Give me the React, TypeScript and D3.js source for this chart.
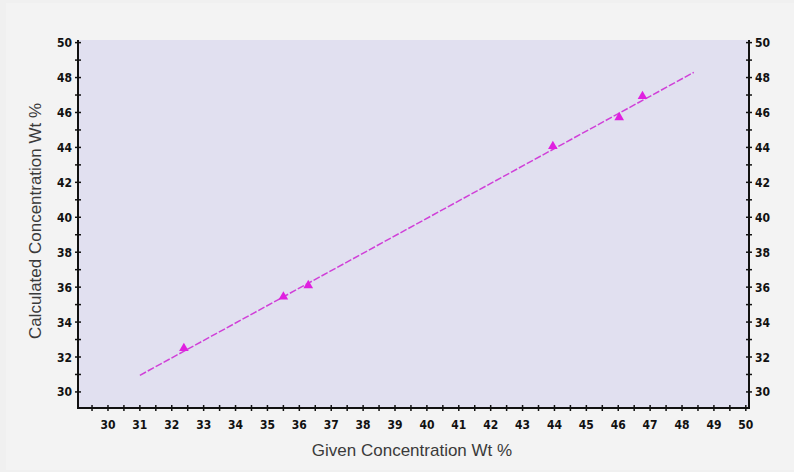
import React, { useEffect, useRef } from "react";
import * as d3 from "d3";

const givenConc = [32.38, 35.5, 36.28, 43.95, 46.03, 46.76];
const calcConc = [32.5, 35.45, 36.1, 44.07, 45.72, 46.93];

// fitted line end points
const fitX = [31.0, 48.37];
const fitY = [30.95, 48.3];

const xLabels = d3.range(30, 51, 1);
const xMinor = d3.range(29.5, 50.01, 0.5);
const yLabels = d3.range(30, 51, 2);
const yMinor = d3.range(30, 50.01, 1);

const W = 794,
  H = 472;

function App() {
  const ref = useRef<SVGSVGElement>(null);

  useEffect(() => {
    const svg = d3.select(ref.current);
    svg.selectAll("*").remove();

    const left = 78,
      right = 749,
      top = 40,
      bottom = 408;

    const x = d3.scaleLinear().domain([29.06, 50.1]).range([left, right]);
    const y = d3.scaleLinear().domain([29.08, 50.15]).range([bottom, top]);

    // page background
    svg.append("rect").attr("width", W).attr("height", H).attr("fill", "#f0f0f0");
    svg
      .append("rect")
      .attr("x", 6)
      .attr("y", 3)
      .attr("width", W - 6)
      .attr("height", H - 5)
      .attr("fill", "#f3f3f3");

    // plot area
    svg
      .append("rect")
      .attr("x", left)
      .attr("y", top)
      .attr("width", right - left)
      .attr("height", bottom - top)
      .attr("fill", "#e1e0f0");

    const tickFont = "'DejaVu Sans Condensed', 'Liberation Sans Narrow', Arial, sans-serif";

    // axes lines
    const axes = svg.append("g").attr("stroke", "#111").attr("stroke-width", 2);
    axes.append("line").attr("x1", left).attr("x2", left).attr("y1", top).attr("y2", bottom + 1);
    axes.append("line").attr("x1", right).attr("x2", right).attr("y1", top).attr("y2", bottom + 1);
    axes.append("line").attr("x1", left - 1).attr("x2", right + 1).attr("y1", bottom).attr("y2", bottom);

    // x ticks (cross style)
    svg
      .append("g")
      .selectAll("line")
      .data(xMinor)
      .join("line")
      .attr("x1", (d) => x(d))
      .attr("x2", (d) => x(d))
      .attr("y1", bottom - 3)
      .attr("y2", bottom + 3)
      .attr("stroke", "#111")
      .attr("stroke-width", 1.5);

    svg
      .append("g")
      .selectAll("text")
      .data(xLabels)
      .join("text")
      .attr("x", (d) => x(d))
      .attr("y", bottom + 21)
      .attr("text-anchor", "middle")
      .style("font-family", tickFont)
      .style("font-weight", "bold")
      .style("font-size", "12px")
      .attr("fill", "#111")
      .text((d) => d);

    // y ticks on both sides
    [left, right].forEach((ax) => {
      svg
        .append("g")
        .selectAll("line")
        .data(yMinor)
        .join("line")
        .attr("x1", ax - 3)
        .attr("x2", ax + 3)
        .attr("y1", (d) => y(d))
        .attr("y2", (d) => y(d))
        .attr("stroke", "#111")
        .attr("stroke-width", 1.5);
    });

    svg
      .append("g")
      .selectAll("text")
      .data(yLabels)
      .join("text")
      .attr("x", left - 6)
      .attr("y", (d) => y(d) + 4.5)
      .attr("text-anchor", "end")
      .style("font-family", tickFont)
      .style("font-weight", "bold")
      .style("font-size", "12px")
      .attr("fill", "#111")
      .text((d) => d);

    svg
      .append("g")
      .selectAll("text")
      .data(yLabels)
      .join("text")
      .attr("x", right + 6)
      .attr("y", (d) => y(d) + 4.5)
      .attr("text-anchor", "start")
      .style("font-family", tickFont)
      .style("font-weight", "bold")
      .style("font-size", "12px")
      .attr("fill", "#111")
      .text((d) => d);

    // fit line
    const line = d3
      .line<number>()
      .x((d, i) => x(fitX[i]))
      .y((d) => y(d));
    svg
      .append("path")
      .attr("d", line(fitY))
      .attr("fill", "none")
      .attr("stroke", "#d040d8")
      .attr("stroke-width", 1.5)
      .attr("stroke-dasharray", "7,2");

    // points
    const tri = d3.symbol().type(d3.symbolTriangle).size(40);
    svg
      .append("g")
      .selectAll("path")
      .data(givenConc)
      .join("path")
      .attr("d", tri)
      .attr("transform", (d, i) => `translate(${x(d)},${y(calcConc[i])})`)
      .attr("fill", "#e020e0");

    // axis titles
    svg
      .append("text")
      .attr("x", 412)
      .attr("y", 456)
      .attr("text-anchor", "middle")
      .style("font-family", "'Liberation Sans', Arial, sans-serif")
      .style("font-size", "17px")
      .attr("fill", "#3a3a3a")
      .text("Given Concentration Wt %");

    svg
      .append("text")
      .attr("transform", `translate(41,221) rotate(-90)`)
      .attr("text-anchor", "middle")
      .style("font-family", "'Liberation Sans', Arial, sans-serif")
      .style("font-size", "17px")
      .attr("fill", "#3a3a3a")
      .text("Calculated Concentration Wt %");
  }, []);

  return (
    <div style={{ position: "absolute", left: 0, top: 0 }}>
      <svg ref={ref} width={W} height={H} style={{ display: "block" }} />
    </div>
  );
}

export default App;
